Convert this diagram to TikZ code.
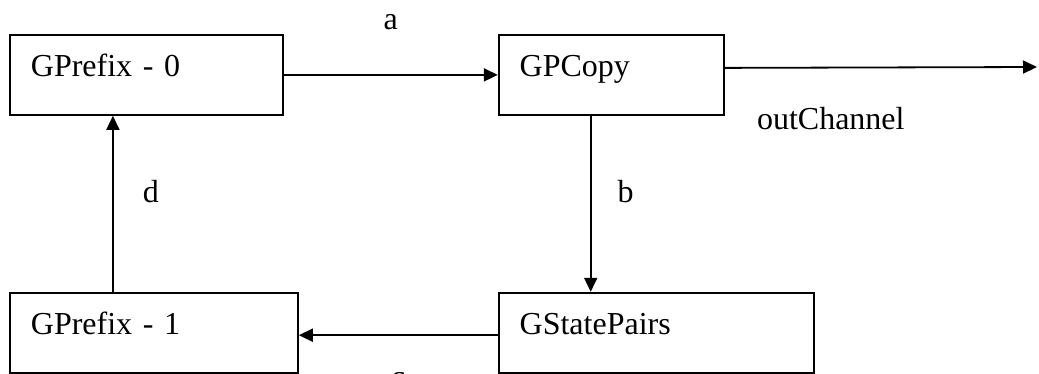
\documentclass[tikz,border=0pt]{standalone}
\usepackage{fontspec}
\setmainfont{Liberation Serif}
\usetikzlibrary{arrows.meta, positioning}
\tikzstyle{block} = [draw, rectangle, line width=0.9pt, inner xsep=10.5pt, inner ysep=5pt, text height=16pt, text depth=14pt, align=left, font=\fontsize{16}{19}\selectfont]
\tikzstyle{lbl} = [font=\fontsize{16}{19}\selectfont]
\tikzstyle{output} = [coordinate]

\begin{document}
\begin{tikzpicture}[x=0.5pt, y=-0.5pt, >={Triangle[length=7pt,width=6.5pt]}, line width=0.9pt]
        \useasboundingbox (0,0) rectangle (1039,374);
        % We start by placing the blocks
        \node [block, text width=115.5pt, anchor=north west] (gPrefixZero) at (9,34) {GPrefix - 0};
        \node [block, text width=91.5pt, right=107pt of gPrefixZero] (gpCopy) {GPCopy};
        \node [block, text width=136.5pt, below=88pt of gpCopy.south west, anchor=north west] (gStatePairs) {GStatePairs};
        \node [block, text width=123pt, left=99.5pt of gStatePairs] (gPrefixOne) {GPrefix - 1};
        \node [output] (outChannel) at (1037,67) {};

        % Once the nodes are placed, connecting them is easy.
        \draw [->] (gPrefixZero) -- node[lbl, pos=0.5, yshift=26.5pt] {a} (gpCopy);
        \draw [->] ([yshift=3.5pt]gpCopy.east) -- node[lbl, pos=0.5, xshift=-25pt, yshift=-25.5pt] {outChannel} (outChannel);
        \draw [->] ([xshift=-10.25pt]gpCopy.south) -- node[lbl, pos=0.5, xshift=17.5pt, yshift=6pt] {b} ([xshift=-10.25pt]gpCopy.south |- gStatePairs.north);
        \draw [->] ([yshift=-1.25pt]gStatePairs.west) -- node[lbl, pos=0.5, yshift=-22.5pt] {c} ([yshift=-1.25pt]gStatePairs.west -| gPrefixOne.east);
        \draw [->] ([xshift=-20.5pt]gPrefixOne.north) -- node[lbl, pos=0.5, xshift=19pt, yshift=6pt] {d} ([xshift=-20.5pt]gPrefixOne.north |- gPrefixZero.south);
    \end{tikzpicture}
\end{document}
